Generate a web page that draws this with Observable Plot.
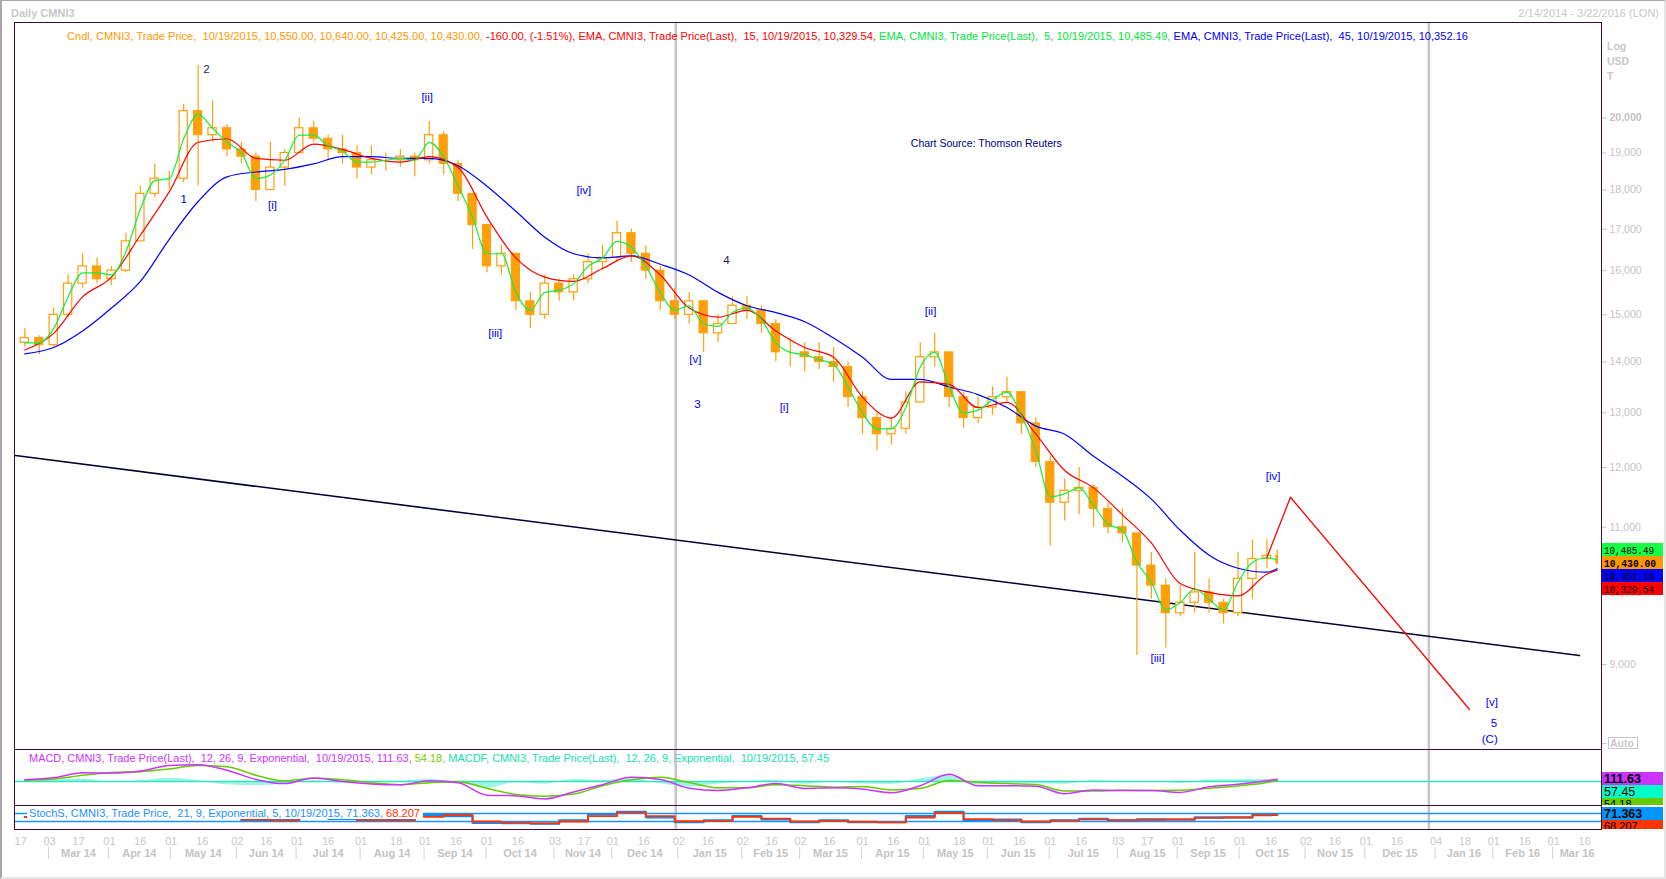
<!DOCTYPE html>
<html><head><meta charset="utf-8">
<script src="https://cdn.jsdelivr.net/npm/d3@7"></script>
<script src="https://cdn.jsdelivr.net/npm/@observablehq/plot@0.6"></script>
<style>
html,body{margin:0;padding:0;background:#fff;}
#wrap{position:relative;width:1666px;height:879px;overflow:hidden;background:#fff;}
#border{position:absolute;left:0;top:0;width:1662px;height:876px;border-left:2px solid #a8a8a8;border-top:1px solid #a8a8a8;border-right:2px solid #e4e4e4;border-bottom:2px solid #e4e4e4;pointer-events:none;}
</style></head><body><div id="wrap"><div id="border"></div></div>
<script>
// ---------- DATA (weekly candles; k = week starting Monday) ----------
const weekFirst = "2014-02-17", weekLast = "2015-10-19";
const open  = [14400,14500,14350,15000,15700,16100,15800,16000,16700,17900,
 18300,18300,20200,19500,19700,19100,18900,18000,18600,19000,
 19700,19400,19100,19000,18600,18800,18800,18900,18800,19500,
 18700,17900,17100,16100,16400,15300,15000,15700,15500,15800,
 16200,16300,16900,16400,16000,15300,15000,15300,14600,14800,
 15200,15100,14800,14200,14200,14100,14000,13900,13300,12900,
 12600,12700,13200,14100,14200,13300,12900,13100,13300,13400,
 12800,12100,11400,11600,11650,11300,11000,10900,10400,10100,
 9700,9850,10000,9850,9700,10200,10500,10550];
const high  = [14700,14550,15150,15900,16400,16300,16100,16900,18100,18700,
 18500,20400,21600,20500,19800,19300,19000,19300,19100,20000,
 19900,19500,19500,19200,19200,19000,19100,19000,19900,19600,
 18800,17900,17100,16600,16400,15500,15900,15800,15900,16400,
 16600,17200,17000,16600,16100,15600,15500,15300,15000,15400,
 15400,15200,14900,14500,14400,14400,14300,14000,13400,13000,
 12900,13400,14400,14600,14200,13400,13300,13500,13700,13400,
 12900,12200,11800,12000,11700,11400,11300,10900,10600,10200,
 10100,10600,10200,9900,10600,10800,10800,10640];
const low   = [14300,14150,14300,14950,15600,15700,15650,15950,16700,17800,
 18000,18200,18100,19300,18900,18700,17700,18000,18100,19000,
 19300,18800,18700,18300,18400,18500,18600,18350,18700,18400,
 17700,16500,15950,15900,15100,14700,14900,15300,15300,15700,
 16000,16200,16200,15800,15100,14900,14800,14200,14400,14800,
 14900,14600,14000,13900,13800,13850,13600,13100,12600,12300,
 12400,12600,13200,13900,13100,12700,12800,12950,13200,12600,
 12000,10700,11100,11200,11000,10900,10750,9120,9900,9220,
 9650,9700,9700,9550,9650,9900,10350,10425];
const close = [14500,14350,15000,15700,16100,15800,16000,16700,17900,18300,
 18300,20200,19500,19700,19100,18900,18000,18600,19000,19700,
 19400,19100,19000,18600,18800,18800,18900,18800,19500,18700,
 17900,17100,16100,16400,15300,15000,15700,15500,15800,16200,
 16300,16900,16400,16000,15300,15000,15300,14600,14800,15200,
 15100,14800,14200,14200,14100,14000,13900,13300,12900,12600,
 12700,13200,14100,14200,13300,12900,13100,13300,13400,12800,
 12100,11400,11600,11650,11300,11000,10900,10400,10100,9700,
 9850,10000,9850,9700,10200,10500,10550,10430];
// EMA 5 (green), one value per week
const ema5 = [14400,14400,14700,15400,15950,15950,15900,16450,17500,18250,
 18300,19400,20100,19700,19300,19000,18300,18400,18800,19500,
 19500,19200,19050,18750,18750,18800,18850,18800,19300,18900,
 18100,17300,16400,16400,15500,15100,15500,15550,15700,16100,
 16300,16700,16550,16100,15500,15100,15200,14800,14750,15050,
 15150,14900,14400,14200,14150,14050,13950,13500,13000,12700,
 12700,13100,13900,14200,13500,13000,13050,13250,13400,12950,
 12300,11500,11550,11650,11350,11050,10950,10450,10150,9750,
 9850,10050,9900,9750,10150,10450,10520,10485.49];
// indicator readings every second week (weeks 0,2,...,86) plus the last day (week 87)
const ema15 = [14250,14600,15400,15850,16850,17950,19300,19400,18850,18800,19250,19100,18850,18750,18900,18600,17300,16300,15850,15750,16050,16350,15900,15150,14950,15100,14650,14300,14100,13300,12900,13600,13550,13100,13200,12600,11950,11650,11200,10750,10130,10000,9950,10270,10329.54];
const ema45 = [14170,14300,14650,15150,15750,16750,17700,18350,18480,18550,18700,18900,18900,18850,18850,18650,18100,17450,16800,16400,16300,16350,16150,15900,15500,15200,15050,14850,14500,14100,13650,13650,13500,13350,13100,12750,12600,12200,11850,11460,10950,10560,10360,10300,10352.16];
const macd   = [80,175,420,400,500,760,800,540,100,-100,170,0,-120,-160,30,-60,-650,-680,-830,-500,-150,200,100,-320,-430,-300,-100,-330,-300,-360,-540,-200,340,-200,-200,-230,-580,-400,-430,-430,-520,-250,-130,40,111.63];
const signal = [60,120,300,430,470,600,760,700,300,30,150,80,-60,-150,-60,-10,-320,-620,-700,-600,-200,80,200,-50,-300,-300,-150,-200,-270,-240,-400,-330,50,-30,-100,-140,-450,-450,-420,-430,-420,-320,-210,-50,54.18];
const macdf  = [20,55,120,-30,30,160,40,-160,-200,-130,20,-80,-60,-10,90,-50,-330,-60,-130,100,50,120,-100,-270,-130,0,50,-130,-30,-120,-140,130,290,-170,-100,-90,-130,50,-10,0,-100,70,80,90,57.45];
const stochK = [53,60,80,70,85,82,88,50,28,30,60,40,28,30,70,60,10,8,4,28,74,92,51,15,28,61,36,15,28,15,15,60,92,28,35,15,28,40,28,36,35,51,51,72,71.363];
const stochD = [53,55,70,72,78,80,84,65,35,28,50,45,30,28,55,70,20,12,6,20,60,88,60,22,24,55,42,20,25,18,14,50,85,38,30,20,26,36,30,33,35,47,50,66,68.207];

// drawn trend line and projected path
const trendDates = ["2014-02-15","2016-03-14"], trendValues = [12213, 9119];
const projDates = ["2015-10-14T12:00Z","2015-10-25T22:00Z","2016-01-20T17:00Z"], projValues = [10524, 11492, 8428];

// wave labels
const waveText  = ["2","1","[i]","[ii]","[iii]","[iv]","4","[v]","3","[i]","[ii]","[iii]","[iv]","[v]","5","(C)"];
const waveDate  = ["2014-05-18","2014-05-07","2014-06-19","2014-09-02","2014-10-05","2014-11-17","2015-01-25","2015-01-10","2015-01-11","2015-02-22","2015-05-04","2015-08-22","2015-10-17","2016-01-31","2016-02-01","2016-01-30"];
const waveValue = [21470,17760,17600,20620,14600,18000,16240,14060,13170,13100,15070,9080,11850,8514,8258,8066];
const waveColor = ["#1a1a70","#0000cc","#0000ff","#0000ff","#0000ff","#0000ff","#1a1a70","#0000ff","#0000cc","#0000ff","#0000ff","#0000ff","#0000ff","#0000ff","#0000ff","#0000ff"];

// axes
const priceTicks = [9000,10000,11000,12000,13000,14000,15000,16000,17000,18000,19000,20000];
const yearLines = ["2015-01-01","2016-01-01"];
const dayTicks = ["2014-02-17","2014-03-03","2014-03-17","2014-04-01","2014-04-16","2014-05-01","2014-05-16","2014-06-02","2014-06-16","2014-07-01","2014-07-16","2014-08-01","2014-08-18","2014-09-01","2014-09-16","2014-10-01","2014-10-16","2014-11-03","2014-11-17","2014-12-01","2014-12-16","2015-01-02","2015-01-16","2015-02-02","2015-02-16","2015-03-02","2015-03-16","2015-04-01","2015-04-16","2015-05-01","2015-05-18","2015-06-01","2015-06-16","2015-07-01","2015-07-16","2015-08-03","2015-08-17","2015-09-01","2015-09-16","2015-10-01","2015-10-16","2015-11-02","2015-11-16","2015-12-01","2015-12-16","2016-01-04","2016-01-18","2016-02-01","2016-02-16","2016-03-01","2016-03-16"];
const monthStarts = ["2014-03-03","2014-04-01","2014-05-01","2014-06-02","2014-07-01","2014-08-01","2014-09-01","2014-10-01","2014-11-03","2014-12-01","2015-01-02","2015-02-02","2015-03-02","2015-04-01","2015-05-01","2015-06-01","2015-07-01","2015-08-03","2015-09-01","2015-10-01","2015-11-02","2015-12-01","2016-01-04","2016-02-01","2016-03-01"];
const monthLabels = ["Mar 14","Apr 14","May 14","Jun 14","Jul 14","Aug 14","Sep 14","Oct 14","Nov 14","Dec 14","Jan 15","Feb 15","Mar 15","Apr 15","May 15","Jun 15","Jul 15","Aug 15","Sep 15","Oct 15","Nov 15","Dec 15","Jan 16","Feb 16","Mar 16"];

// ---------- BUILD ----------
const DAY = 864e5, P = s => new Date(s.length === 10 ? s + "T00:00:00Z" : s);
const weeks = d3.utcMonday.range(P(weekFirst), new Date(+P(weekLast) + DAY));
const last = weeks.length - 1;
const candles = weeks.map((d, i) => ({
  start: new Date(+d + (i === last ? 0.1 : 0.5) * DAY),
  end: new Date(+d + (i === last ? 0.9 : 4.5) * DAY),
  mid: new Date(+d + (i === last ? 0.5 : 2.5) * DAY),
  open: open[i], high: high[i], low: low[i], close: close[i], ema5: ema5[i]
}));
const indIdx = d3.range(0, last, 2).concat([last]);
const ind = indIdx.map((k, j) => ({date: candles[k].mid, ema15: ema15[j], ema45: ema45[j], macd: macd[j], signal: signal[j], hist: macdf[j], k: stochK[j], d: stochD[j]}));
const trend = trendDates.map((d, i) => ({date: P(d), value: trendValues[i]}));
const proj = projDates.map((d, i) => ({date: P(d), value: projValues[i]}));
const waves = waveText.map((t, i) => ({text: t, date: P(waveDate[i] + "T12:00:00Z"), value: waveValue[i], color: waveColor[i]}));
const years = yearLines.map(P);

const W = 1666, ML = 14, MR = 65;
const X = {type: "utc", domain: [new Date(Date.UTC(2014,1,14,12)), new Date(Date.UTC(2016,2,24,16))], axis: null};
const FONT = "'Liberation Sans', Arial, sans-serif";
const st = top => ({background: "transparent", overflow: "visible", position: "absolute", left: "0px", top: top + "px", fontFamily: FONT, fontSize: "11px", maxWidth: "none"});
const ORANGE = "#ff9f0a", FRAME = "#3c0a3c", GRAY = "#c4c4c4";
const up = candles.filter(d => d.close >= d.open), down = candles.filter(d => d.close < d.open);
const wrap = document.getElementById("wrap");

const main = Plot.plot({
  width: W, height: 750, marginLeft: ML, marginRight: MR, marginTop: 22, marginBottom: 1,
  x: X, y: {type: "log", domain: [7950, 22990]},
  style: st(0),
  marks: [
    Plot.ruleX(years, {stroke: GRAY, strokeWidth: 2.5}),
    Plot.line(trend, {x: "date", y: "value", stroke: "#000033", strokeWidth: 1.6}),
    Plot.ruleX(candles, {x: "mid", y1: "low", y2: "high", stroke: ORANGE, strokeWidth: 1.2}),
    Plot.rect(up, {x1: "start", x2: "end", y1: "open", y2: "close", fill: "white", stroke: ORANGE, strokeWidth: 1.2}),
    Plot.rect(down, {x1: "start", x2: "end", y1: "open", y2: "close", fill: ORANGE, stroke: ORANGE, strokeWidth: 1}),
    Plot.line(ind, {x: "date", y: "ema45", stroke: "#0000ff", strokeWidth: 1.2, curve: "monotone-x"}),
    Plot.line(ind, {x: "date", y: "ema15", stroke: "#ff0000", strokeWidth: 1.2, curve: "monotone-x"}),
    Plot.line(candles, {x: "mid", y: "ema5", stroke: "#10f040", strokeWidth: 1.2, curve: "monotone-x"}),
    Plot.line(proj, {x: "date", y: "value", stroke: "#ff0000", strokeWidth: 1.3}),
    ...d3.groups(waves, d => d.color).map(([c, g]) => Plot.text(g, {x: "date", y: "value", text: "text", fill: c, fontSize: 11.5})),
    Plot.text([{date: P("2015-05-31T12:00:00Z"), value: 19270, t: "Chart Source: Thomson Reuters"}], {x: "date", y: "value", text: "t", fill: "#000080", fontSize: 10.5}),
    Plot.axisY(priceTicks.filter(v => v !== 20000), {anchor: "right", tickSize: 5, tickPadding: 3, tickFormat: d3.format(","), color: GRAY, fontSize: 10.5, label: null}),
    Plot.axisY([20000], {anchor: "right", tickSize: 5, tickPadding: 3, tickFormat: d3.format(","), color: GRAY, fontSize: 10.5, fontWeight: "bold", label: null}),
    Plot.frame({stroke: FRAME})
  ]
});
wrap.appendChild(main);

const macdPlot = Plot.plot({
  width: W, height: 56, marginLeft: ML, marginRight: MR, marginTop: 0, marginBottom: 0,
  x: X, y: {domain: [-1143, 1524], axis: null}, style: st(749),
  marks: [
    Plot.ruleX(years, {stroke: GRAY, strokeWidth: 2.5}),
    Plot.areaY(ind, {x: "date", y: "hist", fill: "#2ee6c4", fillOpacity: 0.45, curve: "monotone-x"}),
    Plot.ruleY([0], {stroke: "#2ee6c4", strokeWidth: 1.5}),
    Plot.line(ind, {x: "date", y: "signal", stroke: "#66cc00", strokeWidth: 1.5, curve: "monotone-x"}),
    Plot.line(ind, {x: "date", y: "macd", stroke: "#cc33ff", strokeWidth: 1.5, curve: "monotone-x"}),
    Plot.frame({stroke: FRAME})
  ]
});
wrap.appendChild(macdPlot);

const stochPlot = Plot.plot({
  width: W, height: 24, marginLeft: ML, marginRight: MR, marginTop: 0, marginBottom: 0,
  x: X, y: {domain: [-40, 140], axis: null}, style: st(805),
  marks: [
    Plot.ruleX(years, {stroke: GRAY, strokeWidth: 2.5}),
    Plot.ruleY([20, 80], {stroke: "#1e90ff", strokeWidth: 1.5}),
    Plot.line(ind, {x: "date", y: "k", stroke: "#0a8cff", strokeWidth: 2.2, curve: "step"}),
    Plot.line(ind, {x: "date", y: "d", stroke: "#ff3300", strokeWidth: 1.8, curve: "step"}),
    Plot.frame({stroke: FRAME})
  ]
});
wrap.appendChild(stochPlot);

const ms = monthStarts.map(P);
const months = ms.map((d, i) => ({label: monthLabels[i], start: d, mid: new Date((+d + +(ms[i + 1] || X.domain[1])) / 2)}));
const axisPlot = Plot.plot({
  width: W, height: 50, marginLeft: ML, marginRight: MR, marginTop: 18, marginBottom: 20,
  x: X, style: st(829),
  marks: [
    Plot.text(dayTicks.map(s => P(s + "T12:00:00Z")), {x: d => d, text: d => d3.utcFormat("%d")(d), frameAnchor: "top", lineAnchor: "middle", dy: -6.5, fill: "#c8c8c8", fontSize: 11}),
    Plot.ruleX(months, {x: "start", stroke: "#d2d2d2", strokeWidth: 1}),
    Plot.text(months, {x: "mid", text: "label", frameAnchor: "top", lineAnchor: "middle", dy: 6.3, fill: "#c4c4c4", fontSize: 11, fontWeight: "bold"})
  ]
});
wrap.appendChild(axisPlot);

// ---------- overlay: header, legends, value boxes ----------
const xs = main.scale("x");
const ov = d3.select(wrap).append("svg").attr("width", W).attr("height", 879)
  .style("position", "absolute").style("left", "0px").style("top", "0px").style("font-family", FONT);
ov.append("text").attr("x", 11).attr("y", 16.5).attr("font-size", 11).attr("font-weight", "bold").attr("fill", "#c8c8c8").text("Daily CMNI3");
ov.append("text").attr("x", 1659).attr("y", 16.5).attr("text-anchor", "end").attr("font-size", 11).attr("fill", "#c8c8c8").text("2/14/2014 - 3/22/2016 (LON)");
["Log", "USD", "T"].forEach((t, i) => ov.append("text").attr("x", 1607).attr("y", 50 + 15 * i).attr("font-size", 10.5).attr("font-weight", "bold").attr("fill", "#c8c8c8").text(t));

function legend(x, y, len, parts) {
  const t = ov.append("text").attr("x", x).attr("y", y).attr("font-size", 10.5).attr("textLength", len).attr("lengthAdjust", "spacingAndGlyphs").attr("xml:space", "preserve");
  parts.forEach(([s, c]) => t.append("tspan").attr("fill", c).text(s));
}
legend(67, 40, 1401, [
  ["Cndl, CMNI3, Trade Price,  10/19/2015, 10,550.00, 10,640.00, 10,425.00, 10,430.00, ", "#ff9900"],
  ["-160.00, (-1.51%), EMA, CMNI3, Trade Price(Last),  15, 10/19/2015, 10,329.54, ", "#ff0000"],
  ["EMA, CMNI3, Trade Price(Last),  5, 10/19/2015, 10,485.49, ", "#00e63c"],
  ["EMA, CMNI3, Trade Price(Last),  45, 10/19/2015, 10,352.16", "#0000ff"]]);

ov.append("rect").attr("x", 27).attr("y", 751).attr("width", 805).attr("height", 13).attr("fill", "white");
legend(29, 761.5, 800, [
  ["MACD, CMNI3, Trade Price(Last),  12, 26, 9, Exponential,  10/19/2015, 111.63, ", "#cc33ff"],
  ["54.18, ", "#77cc00"],
  ["MACDF, CMNI3, Trade Price(Last),  12, 26, 9, Exponential,  10/19/2015, 57.45", "#14e0b0"]]);
const xy = xs.apply(years[0]);
ov.append("line").attr("x1", xy).attr("x2", xy).attr("y1", 751).attr("y2", 764).attr("stroke", GRAY).attr("stroke-width", 2.5);

ov.append("rect").attr("x", 27).attr("y", 807).attr("width", 396).attr("height", 12).attr("fill", "white");
legend(29, 816.5, 391, [
  ["StochS, CMNI3, Trade Price,  21, 9, Exponential, 5, 10/19/2015, 71.363, ", "#1e90ff"],
  ["68.207", "#ff3300"]]);

// value boxes
const defs = ov.append("defs");
function box(y, h, fill, txt, opt = {}) {
  const id = "c" + Math.round(y);
  defs.append("clipPath").attr("id", id).append("rect").attr("x", 1602).attr("y", y).attr("width", 61).attr("height", h);
  const g = ov.append("g").attr("clip-path", `url(#${id})`);
  g.append("rect").attr("x", 1602).attr("y", y).attr("width", 61).attr("height", h).attr("fill", fill);
  g.append("text").attr("x", 1604).attr("y", y + (opt.base || 10.5)).attr("font-size", opt.size || 10.5)
    .attr("font-family", opt.family || "'Liberation Mono', 'DejaVu Sans Mono', monospace")
    .attr("font-weight", opt.bold ? "bold" : "normal").attr("fill", opt.color || "#000")
    .attr("textLength", opt.len || null).attr("lengthAdjust", "spacingAndGlyphs").text(txt);
}
box(543, 13, "#14ff46", "10,485.49", {len: 50});
box(556, 13, "#ff9900", "10,430.00", {len: 52, bold: true});
box(569, 13, "#0000ff", "10,352.16", {len: 50});
box(582, 13, "#ff0000", "10,329.54", {len: 50});
const SANS = {family: FONT, size: 12.5, base: 11};
box(772, 13, "#cc33ff", "111.63", {...SANS, bold: true});
box(785, 13, "#00ffc8", "57.45", {...SANS});
box(798, 7, "#66cc00", "54.18", {...SANS, size: 11, base: 10});
box(807, 13, "#0096ff", "71.363", {...SANS, bold: true});
box(820, 9, "#ff3300", "68.207", {...SANS, size: 11, base: 10});

// Auto
ov.append("line").attr("x1", 1602).attr("x2", 1607).attr("y1", 743.5).attr("y2", 743.5).attr("stroke", "#c8c8c8");
ov.append("rect").attr("x", 1608.5).attr("y", 737.5).attr("width", 29).attr("height", 11).attr("fill", "none").attr("stroke", "#c8c8c8");
ov.append("text").attr("x", 1610).attr("y", 746.5).attr("font-size", 10.5).attr("font-weight", "bold").attr("fill", "#c8c8c8").text("Auto");
</script></body></html>
